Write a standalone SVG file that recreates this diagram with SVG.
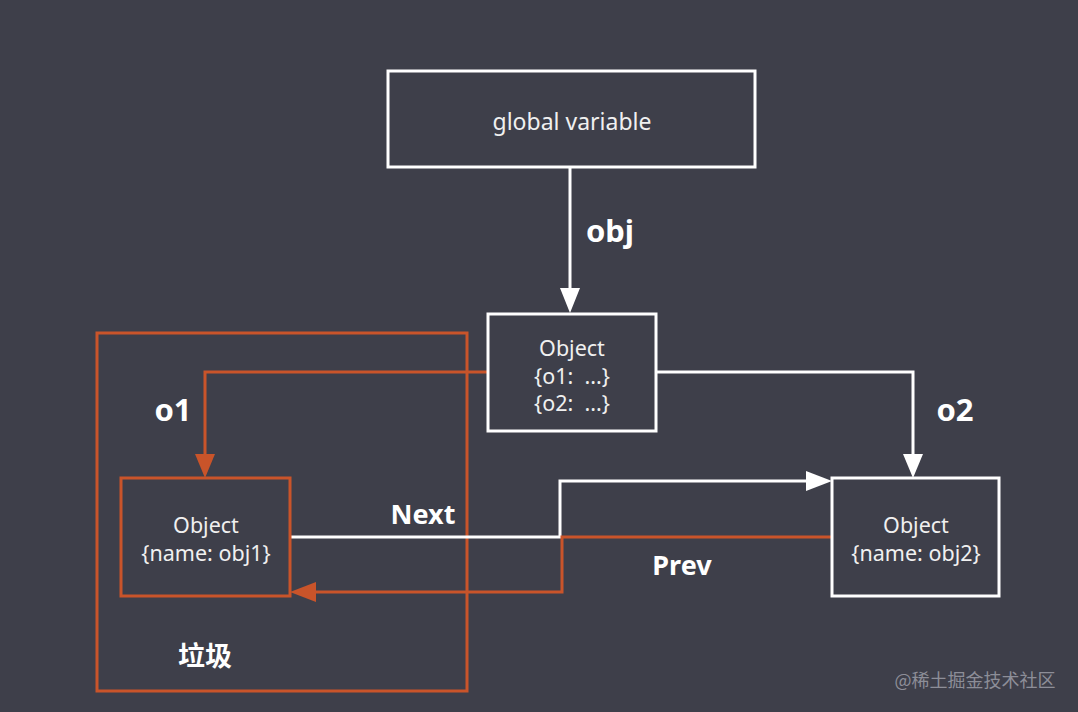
<svg xmlns="http://www.w3.org/2000/svg" width="1078" height="712" viewBox="0 0 1078 712">
<style>
.node{fill:none;stroke-width:3}
.w{stroke:#ffffff}
.o{stroke:#c9542a}
.t{font-family:"Noto Sans","Open Sans",sans-serif;fill:#f0f0f0;font-size:21.5px;text-anchor:middle;white-space:pre}
.lbl{font-family:"Noto Sans","Open Sans","Noto Sans CJK SC",sans-serif;fill:#ffffff;font-size:31px;font-weight:bold;text-anchor:middle}
.ln{fill:none;stroke-width:3}
</style>
<rect width="1078" height="712" fill="#3e3f4a"/>
<g id="garbage">
<rect x="97" y="333" width="370" height="358" class="node o"/>
<text x="205" y="666" class="lbl" style="font-size:27px">垃圾</text>
</g>
<g id="connectors">
<path d="M570,167 V290" class="ln w"/><path d="M560,288 L570,313 L580,288 z" fill="#fff"/>
<path d="M488,372 H205 V456" class="ln o"/><path d="M195,454 L205,478 L215,454 z" fill="#c9542a"/>
<path d="M656,372 H913 V456" class="ln w"/><path d="M903,454 L913,478 L923,454 z" fill="#fff"/>
<path d="M290,537 H560 V481 H808" class="ln w"/><path d="M806,471 L832,481 L806,491 z" fill="#fff"/>
<path d="M832,537 H562 V592 H314" class="ln o"/><path d="M316,582 L290,592 L316,602 z" fill="#c9542a"/>
<text x="610" y="242" class="lbl">obj</text>
<text x="173" y="421" class="lbl">o1</text>
<text x="955" y="421" class="lbl">o2</text>
<text x="423" y="524" class="lbl" style="font-size:27px">Next</text>
<text x="682" y="575" class="lbl" style="font-size:27px">Prev</text>
</g>
<g id="global">
<rect x="388" y="71" width="367" height="96" class="node w"/>
<text x="572" y="130" class="t" style="font-size:23px">global variable</text>
</g>
<g id="root">
<rect x="488" y="314" width="168" height="117" class="node w"/>
<text x="572" y="356" class="t">Object</text>
<text x="572" y="384" class="t" xml:space="preserve">{o1:  ...}</text>
<text x="572" y="411" class="t" xml:space="preserve">{o2:  ...}</text>
</g>
<g id="obj1">
<rect x="121" y="478" width="169" height="118" class="node o"/>
<text x="206" y="533" class="t">Object</text>
<text x="206" y="561" class="t">{name: obj1}</text>
</g>
<g id="obj2">
<rect x="832" y="478" width="167" height="118" class="node w"/>
<text x="916" y="533" class="t">Object</text>
<text x="916" y="561" class="t">{name: obj2}</text>
</g>
<text x="975" y="687" font-family="Noto Sans CJK SC,sans-serif" font-size="18" fill="#8d8e98" text-anchor="middle">@稀土掘金技术社区</text>
</svg>
